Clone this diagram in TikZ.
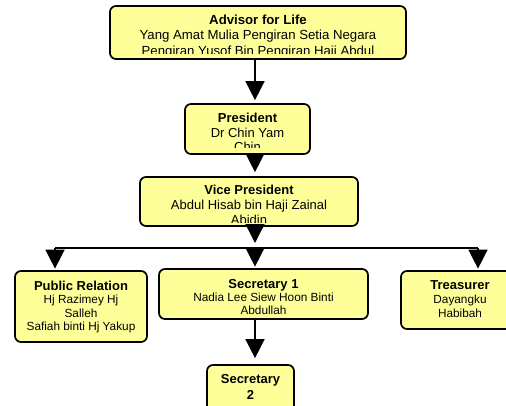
\documentclass[tikz,border=0pt]{standalone}
\usepackage{fontspec}
\setmainfont{Liberation Sans}
\usetikzlibrary{arrows.meta}
\definecolor{chartyellow}{RGB}{255,255,153}
\tikzset{
	post/.style={draw, line width=1.7pt, rounded corners=6pt, fill=chartyellow},
	posttext/.style n args={4}{path picture={
		\clip ([yshift=#2]path picture bounding box.south west) rectangle (path picture bounding box.north east);
		\node[anchor=base, align=center, inner sep=0pt, font=#3] at ([yshift=-#1]path picture bounding box.north) {#4};
	}},
	link/.style={line width=1.5pt, -{Triangle[length=19pt,width=19pt]}, shorten >=3pt}
}
\begin{document}
\begin{tikzpicture}[x=1pt, y=-1pt]
	%\draw[help lines] (0,0) grid (506,405);
	\useasboundingbox (0,0) rectangle (506,405);
	% first number: baseline of the last line, below the top of the box
	\node[post, minimum width=296pt, minimum height=53pt, posttext={49pt}{5.7pt}{\fontsize{13.2}{15.5}\selectfont}{\textbf{Advisor for Life}\\Yang Amat Mulia Pengiran Setia Negara\\Pengiran Yusof Bin Pengiran Haji Abdul}] (advisor) at (258,32.5) {};
	\node[post, minimum width=125pt, minimum height=50pt, posttext={47.5pt}{7pt}{\fontsize{13}{14.5}\selectfont}{\textbf{President}\\Dr Chin Yam\\Chin}] (president) at (247.5,129) {};
	\node[post, minimum width=218pt, minimum height=49pt, posttext={47.5pt}{4pt}{\fontsize{13}{15.25}\selectfont}{\textbf{Vice President}\\Abdul Hisab bin Haji Zainal\\Abidin}] (vice) at (249,201.5) {};
	\node[post, minimum width=132pt, minimum height=71pt, posttext={59.5pt}{4pt}{\fontsize{11.8}{13.5}\selectfont}{{\fontsize{13}{13.5}\selectfont\bfseries Public Relation}\\Hj Razimey Hj\\Salleh\\Safiah binti Hj Yakup}] (pr) at (81,306.5) {};
	\node[post, minimum width=209pt, minimum height=50pt, posttext={45.3pt}{4.4pt}{\fontsize{11.8}{13}\selectfont}{{\fontsize{13}{13}\selectfont\bfseries Secretary 1}\\Nadia Lee Siew Hoon Binti\\Abdullah}] (sec1) at (263.5,294) {};
	\node[post, minimum width=118pt, minimum height=58pt, posttext={46pt}{5pt}{\fontsize{11.8}{14}\selectfont}{{\fontsize{13}{14}\selectfont\bfseries Treasurer}\\Dayangku\\Habibah}] (treasurer) at (460,300) {};
	\node[post, minimum width=87pt, minimum height=50pt, posttext={34pt}{5pt}{\fontsize{13}{15.5}\selectfont}{\textbf{Secretary}\\\textbf{2}}] (sec2) at (250.5,390) {};
	\coordinate (spine) at (255,0);
	\coordinate (barL) at (55,248);
	\coordinate (barM) at (255,248);
	\coordinate (barR) at (478,248);
	\draw[link] (advisor.south -| spine) -- (president.north -| spine);
	\draw[link, shorten >=4pt] (president.south -| spine) -- (vice.north -| spine);
	\draw[link, shorten >=5pt] (vice.south -| spine) -- (barM);
	\draw[line width=1.5pt] (barL) -- (barR);
	\foreach \c/\p in {barL/pr, barM/sec1, barR/treasurer}{
		\draw[link, shorten >=1.5pt] (\c) -- (\p.north -| \c);
	}
	\draw[link, shorten >=6pt] (sec1.south -| spine) -- (sec2.north -| spine);
\end{tikzpicture}
\end{document}
